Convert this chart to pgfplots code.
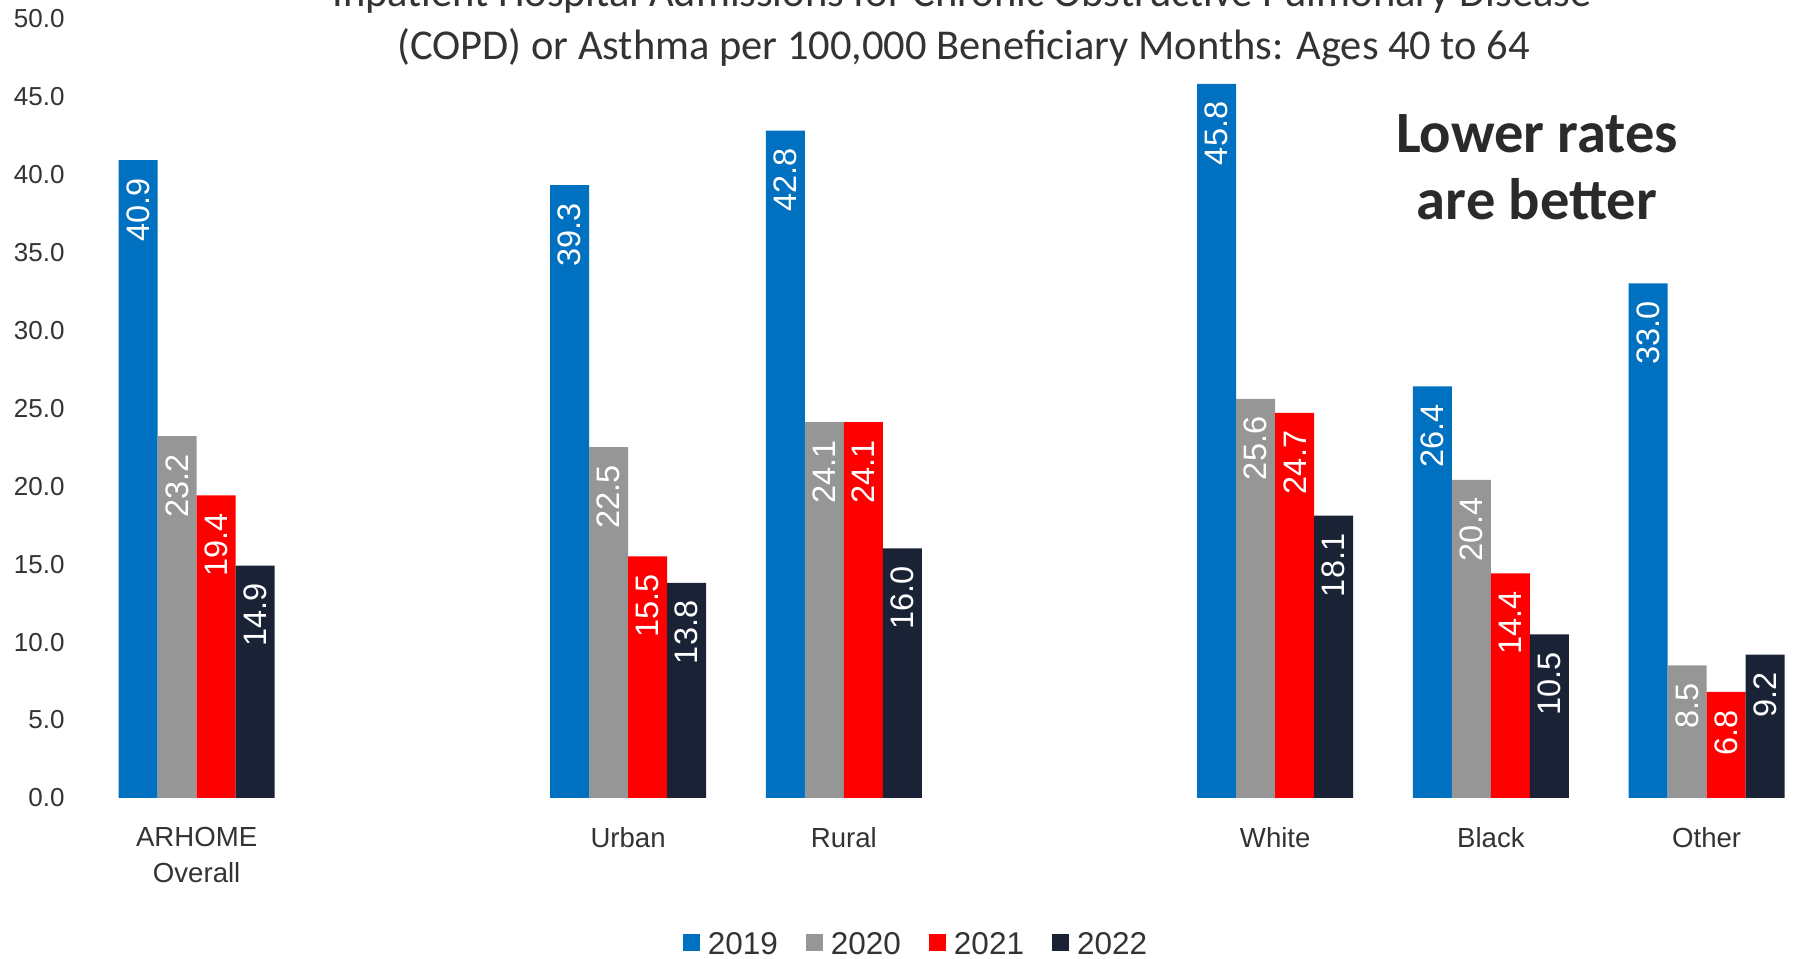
\documentclass[border=0pt]{standalone}
\usepackage{fontspec}
\setmainfont{Liberation Sans}
\newfontfamily\calibri{Carlito}
\usepackage{pgfplots}
\pgfplotsset{compat=1.18}
\definecolor{c19}{HTML}{0070C0}
\definecolor{c20}{HTML}{969696}
\definecolor{c21}{HTML}{FF0000}
\definecolor{c22}{HTML}{1A2236}
\definecolor{txt}{HTML}{333333}
\definecolor{txtd}{HTML}{2A2A2A}
\pgfplotsset{sqlegend/.style={legend image code/.code={\fill[##1,draw=none] (0bp,-7bp) rectangle (17bp,10bp);}}}
\begin{document}
\begin{tikzpicture}
\path[use as bounding box] (0bp,0bp) rectangle (1793bp,959bp);
\begin{axis}[
  at={(88.8bp,161bp)}, anchor=south west,
  scale only axis, width=1704.2bp, height=779.7bp,
  xmin=-0.5, xmax=7.4, ymin=0, ymax=50,
  ybar=0pt, bar width=39bp,
  axis line style={draw=none},
  major tick length=0pt,
  xtick={0,2,3,5,6,7},
  xticklabels={{ARHOME\\Overall},Urban,Rural,White,Black,Other},
  xticklabel style={align=center, font=\fontsize{27.6bp}{36bp}\selectfont, text=txt, inner sep=0pt, anchor=north, yshift=-29bp},
  ytick={0,5,...,50},
  yticklabel style={font=\fontsize{26bp}{30bp}\selectfont, text=txt, inner sep=0pt, anchor=east, xshift=-24bp, /pgf/number format/.cd, fixed, fixed zerofill, precision=1, assume math mode=true},
  nodes near coords={\pgfmathprintnumber[fixed,fixed zerofill,precision=1,assume math mode=true]{\pgfplotspointmeta}},
  every node near coord/.append style={rotate=90, anchor=east, font=\fontsize{32.5bp}{36bp}\selectfont, text=white, inner xsep=18bp, inner ysep=0pt, outer sep=0pt},
  legend columns=4,
  legend style={at={(0.4848,-0.1878)}, anchor=center, draw=none, fill=none, inner sep=0pt,
    font=\fontsize{31.5bp}{36bp}\selectfont, text=txt,
    nodes={inner sep=0pt},
    /tikz/every odd column/.append style={column sep=8bp},
    /tikz/every even column/.append style={column sep=28bp}},
]
\addplot[fill=c19, draw=none, sqlegend] coordinates {(0,40.9) (2,39.3) (3,42.8) (5,45.8) (6,26.4) (7,33.0)};
\addplot[fill=c20, draw=none, sqlegend] coordinates {(0,23.2) (2,22.5) (3,24.1) (5,25.6) (6,20.4) (7,8.5)};
\addplot[fill=c21, draw=none, sqlegend] coordinates {(0,19.4) (2,15.5) (3,24.1) (5,24.7) (6,14.4) (7,6.8)};
\addplot[fill=c22, draw=none, sqlegend] coordinates {(0,14.9) (2,13.8) (3,16.0) (5,18.1) (6,10.5) (7,9.2)};
\legend{2019,2020,2021,2022}
\end{axis}
\node[anchor=base, font=\calibri\fontsize{42.5bp}{52bp}\selectfont, text=txt] at (962bp,952bp) {Inpatient Hospital Admissions for Chronic Obstructive Pulmonary Disease};
\node[anchor=base, font=\calibri\fontsize{42.5bp}{52bp}\selectfont, text=txt] at (963.5bp,899bp) {(COPD) or Asthma per 100,000 Beneficiary Months: Ages 40 to 64};
\node[anchor=base, font=\calibri\bfseries\fontsize{58.5bp}{69bp}\selectfont, text=txtd] at (1537bp,806bp) {Lower rates};
\node[anchor=base, font=\calibri\bfseries\fontsize{58.5bp}{69bp}\selectfont, text=txtd] at (1537bp,739bp) {are better};
\end{tikzpicture}
\end{document}
